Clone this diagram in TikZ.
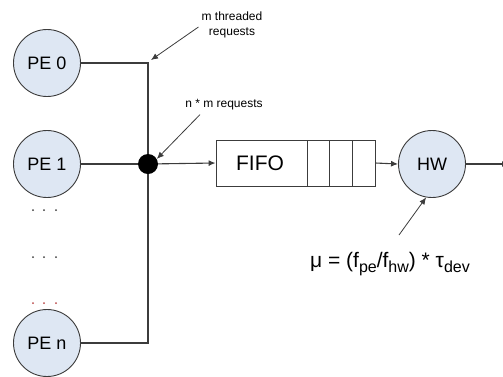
\documentclass[tikz,border=0pt]{standalone}
\usepackage{fontspec}
\setmainfont{Liberation Sans}
\usetikzlibrary{positioning,arrows.meta}
\definecolor{peblue}{RGB}{222,231,243}
\definecolor{linegray}{RGB}{60,60,60}
\newcommand{\subtxt}[1]{\raisebox{-0.22em}{\fontsize{16}{16}\selectfont #1}}
\begin{document}
\begin{tikzpicture}[x=1pt,y=-1pt,
	pe/.style={circle,draw=linegray,line width=0.9pt,fill=peblue,minimum size=67pt,inner sep=0pt,font=\fontsize{18}{18}\selectfont},
	wire/.style={draw=linegray,line width=1.1pt},
	tip/.style={-{Latex[length=7pt,width=6pt]}},
	note/.style={font=\fontsize{12}{15}\selectfont,align=center,inner sep=0pt}]
	\useasboundingbox (0,0) rectangle (503,376);
	
	% Processing elements
	\node[pe] (pe0) at (47,63) {PE 0};
	\node[pe] (pe1) at (47,164) {PE 1};
	\node[pe] (pen) at (47,343) {PE n};
	
	% Dots between PE 1 and PE n
	\foreach \y/\c in {210/linegray,257/linegray,303/red!45!gray} {
			\foreach \x in {33,44,56} {
					\fill[\c] (\x,\y) circle (1pt);
				}
		}
	
	% Shared bus
	\coordinate (bustop) at (148,63);
	\coordinate (busbot) at (148,343);
	\draw[wire] (pe0.east) -- (bustop) -- (busbot) -- (pen.east);
	\node[circle,fill=black,minimum size=20pt,inner sep=0pt] (join) at (148,164) {};
	\draw[wire] (pe1.east) -- (join);
	
	% FIFO queue
	\node[draw=linegray,line width=0.9pt,minimum width=159pt,minimum height=46pt,inner sep=0pt] (fifo) at (295.5,163) {};
	\node[font=\fontsize{21}{21}\selectfont] (fifolbl) at (260,163) {FIFO};
	\foreach \x in {307,329,352} {
			\draw[linegray,line width=0.9pt] (\x,140) -- (\x,186);
		}
	\draw[wire,tip] (join) -- (fifo.west);
	
	% Hardware unit
	\node[pe] (hw) at (432,164) {HW};
	\draw[wire,tip] (fifo.east) -- (hw.west);
	\coordinate (out) at (509,164);
	\draw[wire,tip] (hw.east) -- (out);
	
	% Labels
	\node[note] (mthr) at (232,25) {m threaded\\requests};
	\coordinate (mtip) at (151,60);
	\draw[linegray,line width=0.8pt,tip] ([xshift=-3pt,yshift=-2pt]mthr.west) -- (mtip);
	
	\node[note] (nm) at (224,105) {n * m requests};
	\draw[linegray,line width=0.8pt,tip] ([xshift=-24pt,yshift=-4pt]nm.south) -- (join.30);
	
	\node[font=\fontsize{21}{21}\selectfont] (mu) at (390,264)
	{μ = (f\subtxt{pe}/f\subtxt{hw}) * τ\subtxt{dev}};
	\coordinate (mufrom) at (399,235);
	\draw[linegray,line width=0.8pt,tip] (mufrom) -- (hw.260);
	
\end{tikzpicture}
\end{document}
